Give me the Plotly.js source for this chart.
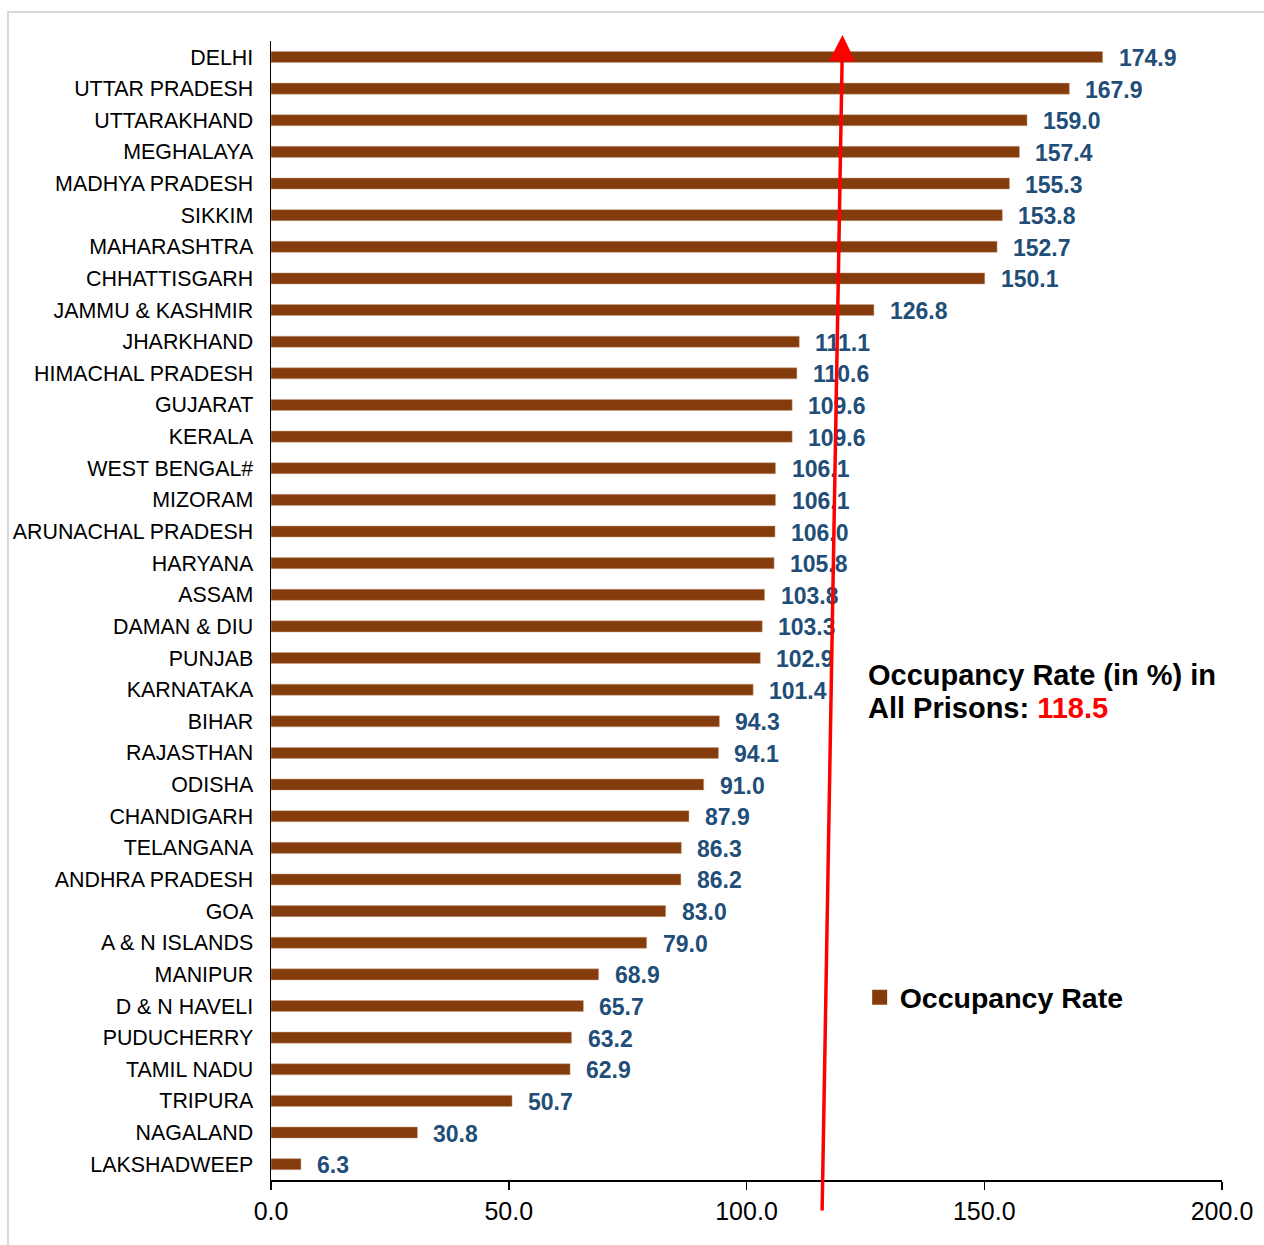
<!DOCTYPE html>
<html>
<head>
<meta charset="utf-8">
<script src="https://cdn.plot.ly/plotly-3.0.1.min.js"></script>
<style>body{margin:0;background:#fff;} #chart{width:1264px;height:1245px;}</style>
</head>
<body>
<div id="chart"></div>
<script>
const states = ["DELHI","UTTAR PRADESH","UTTARAKHAND","MEGHALAYA","MADHYA PRADESH","SIKKIM","MAHARASHTRA","CHHATTISGARH","JAMMU & KASHMIR","JHARKHAND","HIMACHAL PRADESH","GUJARAT","KERALA","WEST BENGAL#","MIZORAM","ARUNACHAL PRADESH","HARYANA","ASSAM","DAMAN & DIU","PUNJAB","KARNATAKA","BIHAR","RAJASTHAN","ODISHA","CHANDIGARH","TELANGANA","ANDHRA PRADESH","GOA","A & N ISLANDS","MANIPUR","D & N HAVELI","PUDUCHERRY","TAMIL NADU","TRIPURA","NAGALAND","LAKSHADWEEP"];
const occupancyRate = [174.9,167.9,159.0,157.4,155.3,153.8,152.7,150.1,126.8,111.1,110.6,109.6,109.6,106.1,106.1,106.0,105.8,103.8,103.3,102.9,101.4,94.3,94.1,91.0,87.9,86.3,86.2,83.0,79.0,68.9,65.7,63.2,62.9,50.7,30.8,6.3];
const xTicks = [0,50,100,150,200];
const xTickLabels = ["0.0","50.0","100.0","150.0","200.0"];
const allPrisonsRate = 118.5;
const arrowBottomX = 115.9;
const arrowTopX = 120.2;

const FONT = 'Liberation Sans, Arial, sans-serif';
const BROWN = '#843C0C';

const labelAnnotations = states.map((s, i) => ({
  x: occupancyRate[i], y: s, xref: 'x', yref: 'y',
  text: occupancyRate[i].toFixed(1), showarrow: false,
  xanchor: 'left', yanchor: 'middle', xshift: 14, yshift: -1,
  font: {family: FONT, size: 23, color: '#1F4E79', weight: 'bold'}
}));

const trace = {
  type: 'bar', orientation: 'h',
  x: occupancyRate, y: states,
  name: 'Occupancy Rate', showlegend: false,
  marker: {color: BROWN, line: {color: '#C9A48A', width: 0.5}},
  hoverinfo: 'x+y'
};

const legendTrace = {
  type: 'scatter', mode: 'markers', x: [null], y: [null],
  name: 'Occupancy Rate', showlegend: true,
  marker: {symbol: 'square', size: 15, color: BROWN}
};

const layout = {
  width: 1264, height: 1245,
  margin: {l: 271, r: 42, t: 41, b: 65},
  paper_bgcolor: '#fff', plot_bgcolor: '#fff',
  bargap: 0.65,
  showlegend: true,
  legend: {x: 0.619, y: 0.16, xanchor: 'left', yanchor: 'middle',
    font: {family: FONT, size: 28.5, color: '#000', weight: 'bold'},
    bgcolor: 'rgba(0,0,0,0)', itemwidth: 30},
  xaxis: {range: [0, 200], tickvals: xTicks, ticktext: xTickLabels,
    showgrid: false, zeroline: false, showline: true, linecolor: '#000', linewidth: 1.5,
    ticks: 'outside', ticklen: 8, tickcolor: '#000', tickwidth: 1.5,
    tickfont: {family: FONT, size: 25, color: '#000'}},
  yaxis: {autorange: 'reversed', showgrid: false, zeroline: false, showline: true,
    linecolor: '#000', linewidth: 1.5, ticks: '', ticklabelstandoff: 12,
    tickfont: {family: FONT, size: 21.4, color: '#000'}},
  shapes: [{type: 'rect', xref: 'paper', yref: 'paper', x0: -0.2766, x1: 1.2, y0: -0.2, y1: 1.0255,
    line: {color: '#D9D9D9', width: 2}, fillcolor: 'rgba(0,0,0,0)', layer: 'below'}],
  annotations: labelAnnotations.concat([
    {x: arrowTopX, y: 1.0053, xref: 'x', yref: 'paper', ax: (arrowBottomX - arrowTopX) * 951 / 200, ay: 1177,
     axref: 'pixel', ayref: 'pixel', showarrow: true, arrowhead: 2, arrowsize: 1.5, arrowwidth: 3.5,
     arrowcolor: '#FF0000', text: ''},
    {x: 0.6257, y: 0.4434, xref: 'paper', yref: 'paper', xanchor: 'left', yanchor: 'middle', align: 'left',
     showarrow: false, text: "Occupancy Rate (in %) in",
     font: {family: FONT, size: 29, color: '#000', weight: 'bold'}},
    {x: 0.6257, y: 0.4144, xref: 'paper', yref: 'paper', xanchor: 'left', yanchor: 'middle', align: 'left',
     showarrow: false,
     text: "All Prisons: <span style='color:#FF0000'>" + allPrisonsRate.toFixed(1) + "</span>",
     font: {family: FONT, size: 29, color: '#000', weight: 'bold'}}
  ])
};

Plotly.newPlot('chart', [trace, legendTrace], layout, {displayModeBar: false, staticPlot: true});
</script>
</body>
</html>
